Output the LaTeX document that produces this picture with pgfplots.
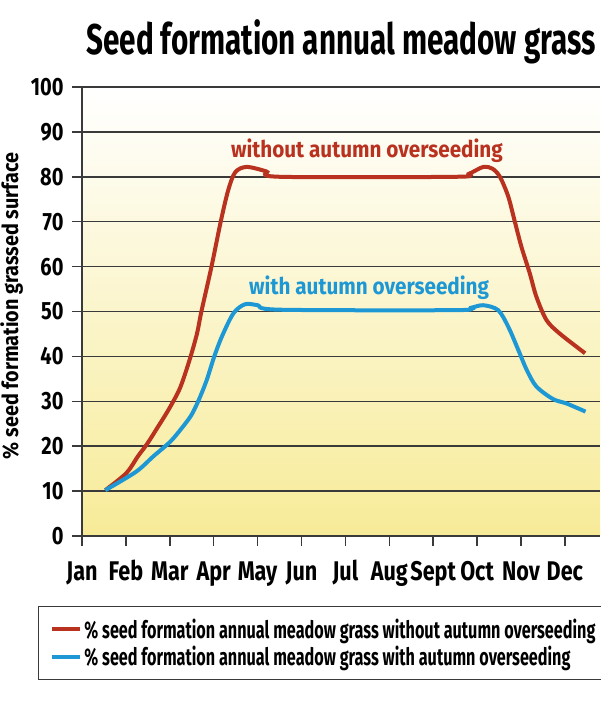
\documentclass[border=0pt]{standalone}
\usepackage{pgfplots}
\pgfplotsset{compat=1.18}
\usepackage{fontspec}
\setmainfont{Fira Sans}
\newfontfamily\titlefont[FakeStretch=0.69]{Fira Sans}
\newfontfamily\tickfont[FakeStretch=0.8]{Fira Sans}
\newfontfamily\annfont[FakeStretch=0.9]{Fira Sans}
\newfontfamily\legfont[FakeStretch=0.675]{Fira Sans}
\definecolor{redline}{HTML}{B8321F}
\definecolor{blueline}{HTML}{1E98D4}
\definecolor{bgyellow}{HTML}{F7EB98}
\definecolor{gridc}{HTML}{3A3A3A}
\begin{document}
\begin{tikzpicture}
\useasboundingbox (0,0) rectangle (600pt,706pt);
\begin{axis}[
  at={(82pt,170pt)}, anchor=south west,
  scale only axis, width=518pt, height=449pt,
  xmin=0, xmax=11.8, ymin=0, ymax=100,
  axis lines=left, axis line style={-, line width=1.5pt, color=gridc},
  xtick={0,...,11},
  xticklabels={Jan,Feb,Mar,Apr,May,Jun,Jul,Aug,Sept,Oct,Nov,Dec},
  ytick={0,10,...,100},
  tick align=outside, major tick length=10pt,
  tick style={line width=1.5pt, color=gridc},
  ymajorgrids, major grid style={line width=1.5pt, color=gridc},
  /pgf/number format/assume math mode=true,
  xticklabel style={font=\tickfont\bfseries\fontsize{27}{30}\selectfont, text height=19pt, text depth=5pt, yshift=-12pt},
  yticklabel style={font=\tickfont\bfseries\fontsize{25}{30}\selectfont, xshift=-5pt},
  axis background/.style={shade, shading=axis, bottom color=bgyellow, middle color=white, top color=white},
  legend style={at={(rel axis cs:-0.085,-0.156)}, anchor=north west,
    draw=gridc, line width=1pt, fill=white,
    font=\legfont\bfseries\fontsize{24}{28}\selectfont,
    inner xsep=12pt, inner ysep=10pt, row sep=3pt},
  legend cell align=left,
  legend image code/.code={\draw[#1, line width=4pt] (0pt,0pt) -- (19pt,0pt); \path (0pt,0pt) -- (28pt,0pt);},
]
\addplot[redline, line width=4pt, smooth, tension=0.5] coordinates {
(0.53,10.2)(1.01,14.0)(1.27,17.7)(1.49,20.6)(1.71,24.0)(1.97,28.1)(2.23,32.9)(2.45,39.2)(2.62,45.1)(2.72,50)(2.95,60)(3.16,70)(3.33,77)(3.49,81)(3.75,82.2)(4.2,81.2)(4.51,80)(8.5,80)(8.8,80.6)(9.14,82.2)(9.35,81.8)(9.52,80)(9.71,75.6)(9.86,70)(10.01,64.4)(10.2,58.5)(10.35,53.3)(10.58,48.1)(10.88,45.1)(11.46,40.7)
};
\addlegendentry{\% seed formation annual meadow grass without autumn overseeding}
\addplot[blueline, line width=4pt, smooth, tension=0.5] coordinates {
(0.53,10.2)(1.23,14.3)(1.62,17.7)(2.01,21.0)(2.27,24.0)(2.49,26.9)(2.66,30.3)(2.84,34.7)(3.01,39.9)(3.19,44.5)(3.45,49.6)(3.71,51.6)(4.0,51.4)(4.5,50.4)(8.5,50.3)(8.85,50.8)(9.14,51.4)(9.48,50.3)(9.71,46.6)(9.94,41.4)(10.13,37)(10.35,33.3)(10.73,30.5)(11.04,29.5)(11.47,27.7)
};
\addlegendentry{\% seed formation annual meadow grass with autumn overseeding}
\node[anchor=base, text=redline, font=\annfont\bfseries\fontsize{23}{26}\selectfont] at (axis cs:6.49,84.4) {without autumn overseeding};
\node[anchor=base, text=blueline, font=\annfont\bfseries\fontsize{23}{26}\selectfont] at (axis cs:6.54,53.7) {with autumn overseeding};
\end{axis}
\node[anchor=base, font=\titlefont\bfseries\fontsize{43}{48}\selectfont] at (341pt,651pt) {Seed formation annual meadow grass};
\node[anchor=base, rotate=90, font=\annfont\bfseries\fontsize{22}{26}\selectfont] at (18pt,400pt) {\% seed formation grassed surface};
\end{tikzpicture}
\end{document}
